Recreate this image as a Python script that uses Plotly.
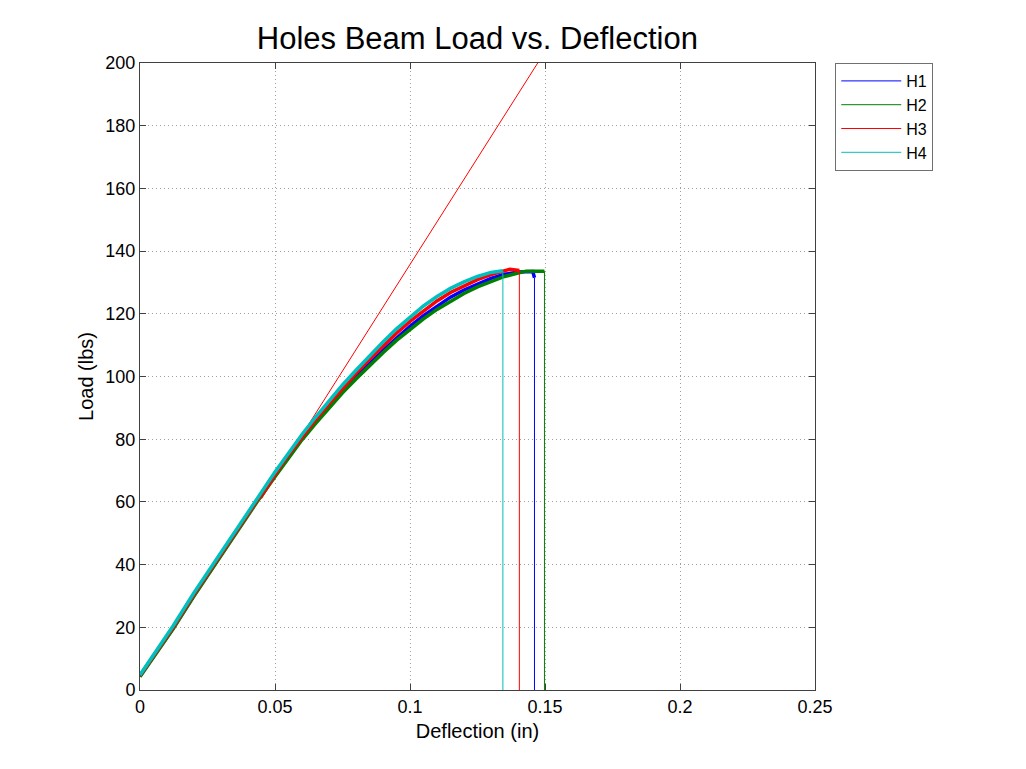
import plotly.graph_objects as go

# ---------------- data ----------------
h1_defl = [0, 0.005, 0.0123, 0.02, 0.0274, 0.035, 0.0432, 0.05, 0.055, 0.06, 0.065, 0.07,
           0.075, 0.08, 0.085, 0.09, 0.095, 0.1, 0.105, 0.11, 0.115, 0.12, 0.125, 0.13,
           0.135, 0.14, 0.1455, 0.1461, 0.1461]
h1_load = [4.5, 10.6, 19.8, 30.2, 39.8, 49.8, 60.2, 68.6, 74.6, 80.3, 85.6, 90.6,
           95.4, 99.9, 104.2, 108.3, 112.2, 116.0, 119.4, 122.5, 125.3, 127.6, 129.6, 131.3,
           132.6, 133.3, 133.5, 131.5, 0]

h2_defl = [0, 0.005, 0.0123, 0.02, 0.0274, 0.035, 0.0432, 0.05, 0.055, 0.06, 0.065, 0.07,
           0.075, 0.08, 0.085, 0.09, 0.095, 0.1, 0.105, 0.11, 0.115, 0.12, 0.125, 0.13,
           0.135, 0.14, 0.143, 0.1498, 0.1498]
h2_load = [4.2, 10.3, 19.5, 30.0, 39.5, 49.5, 59.8, 68.0, 74.0, 79.8, 85.0, 90.0,
           94.8, 99.2, 103.5, 107.6, 111.5, 115.1, 118.4, 121.4, 124.1, 126.5, 128.6, 130.4,
           131.9, 133.0, 133.6, 133.6, 0]

h3_defl = [0, 0.005, 0.0123, 0.02, 0.0274, 0.035, 0.0432, 0.05, 0.055, 0.06, 0.065, 0.07,
           0.075, 0.08, 0.085, 0.09, 0.095, 0.1, 0.105, 0.11, 0.115, 0.12, 0.125, 0.13,
           0.135, 0.137, 0.1405, 0.1405]
h3_load = [4.6, 10.8, 20.0, 30.5, 40.0, 50.0, 60.5, 69.0, 75.0, 80.8, 86.2, 91.3,
           96.3, 101.0, 105.5, 109.8, 113.8, 117.6, 121.0, 124.1, 126.8, 129.0, 130.9, 132.5,
           133.7, 134.2, 133.8, 0]

h4_defl = [0, 0.005, 0.0123, 0.02, 0.0274, 0.035, 0.0432, 0.05, 0.055, 0.06, 0.065, 0.07,
           0.075, 0.08, 0.085, 0.09, 0.095, 0.1, 0.105, 0.11, 0.115, 0.12, 0.125, 0.13,
           0.1344, 0.1344]
h4_load = [4.8, 11.0, 20.5, 31.0, 40.5, 50.5, 61.0, 69.5, 75.5, 81.5, 87.0, 92.2,
           97.3, 102.0, 106.6, 111.0, 115.2, 119.0, 122.5, 125.5, 128.1, 130.2, 131.9, 133.2,
           133.7, 0]

# linear (elastic) fit line drawn for H3
fit_defl = [0.045, 0.1473]
fit_load = [61.0, 200.0]

series_names = ["H1", "H2", "H3", "H4"]
series_defl = [h1_defl, h2_defl, h3_defl, h4_defl]
series_load = [h1_load, h2_load, h3_load, h4_load]
series_colors = ["#0000ff", "#008000", "#ff0000", "#00bfbf"]

x_ticks = [0, 0.05, 0.1, 0.15, 0.2, 0.25]
x_tick_labels = ["0", "0.05", "0.1", "0.15", "0.2", "0.25"]
y_ticks = [0, 20, 40, 60, 80, 100, 120, 140, 160, 180, 200]

# ---------------- figure ----------------
FONT = "Liberation Sans, Arial, sans-serif"
fig = go.Figure()

# thick (noisy) load curves, no legend entry
for name, xs, ys, col in zip(series_names, series_defl, series_load, series_colors):
    fig.add_trace(go.Scatter(x=xs[:-1], y=ys[:-1], mode="lines",
                             line=dict(color=col, width=3.5),
                             showlegend=False, legendgroup=name, hoverinfo="skip"))
    if name == "H3":
        fig.add_trace(go.Scatter(x=fit_defl, y=fit_load, mode="lines",
                                 line=dict(color=col, width=1),
                                 showlegend=False, legendgroup=name, hoverinfo="skip"))

# thin failure drop lines, carrying the legend entries
for name, xs, ys, col in zip(series_names, series_defl, series_load, series_colors):
    fig.add_trace(go.Scatter(x=xs[-2:], y=ys[-2:], mode="lines", name=name,
                             line=dict(color=col, width=1), legendgroup=name))

axis_common = dict(showline=True, linecolor="#404040", linewidth=1, mirror="ticks",
                   ticks="inside", ticklen=6, tickcolor="#404040",
                   showgrid=True, gridcolor="#a0a0a0", griddash="1px,3px", gridwidth=1,
                   zeroline=False, tickfont=dict(family=FONT, size=18, color="black"))

fig.update_xaxes(range=[0, 0.25], tickvals=x_ticks, ticktext=x_tick_labels,
                 title=dict(text="Deflection (in)", font=dict(family=FONT, size=20, color="black"),
                            standoff=8),
                 **axis_common)
fig.update_yaxes(range=[0, 200], tickvals=y_ticks,
                 title=dict(text="Load (lbs)", font=dict(family=FONT, size=20, color="black"),
                            standoff=6),
                 **axis_common)

fig.update_layout(
    width=1026, height=769,
    margin=dict(l=132, r=219, t=55, b=87),
    paper_bgcolor="white", plot_bgcolor="white",
    title=dict(text="Holes Beam Load vs. Deflection", x=0.4575, xanchor="center",
               y=0.961, yanchor="middle",
               font=dict(family=FONT, size=31, color="black")),
    legend=dict(x=1.03, y=1.0, xanchor="left", yanchor="top",
                bgcolor="white", bordercolor="#707070", borderwidth=1,
                font=dict(family=FONT, size=16, color="black"),
                itemwidth=60, tracegroupgap=0),
    showlegend=True,
)

fig.write_html("out.html")
